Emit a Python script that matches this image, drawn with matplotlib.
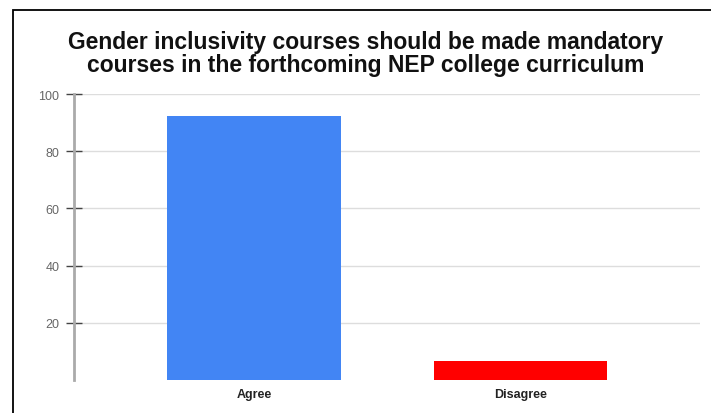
import matplotlib.pyplot as plt
from matplotlib.patches import Rectangle

plt.rcParams["font.family"] = ["Liberation Sans", "DejaVu Sans"]

categories = ["Agree", "Disagree"]
values = [92.4, 6.6]
bar_colors = ["#4285F4", "#FF0000"]
y_ticks = [20, 40, 60, 80, 100]
title = "Gender inclusivity courses should be made mandatory\ncourses in the forthcoming NEP college curriculum"

W, H = 711, 414
fig = plt.figure(figsize=(W / 100, H / 100), dpi=100)
fig.patch.set_facecolor("white")

# outer frame, open on the right and bottom
fig.patches.append(Rectangle((13 / W, -0.1), 1.2, (H - 11) / H + 0.1,
                             transform=fig.transFigure, fill=False,
                             edgecolor="black", linewidth=1.3))

left, right, bottom, top = 74, 700, 381, 95
ax = fig.add_axes([left / W, 1 - bottom / H, (right - left) / W, (bottom - top) / H])

x = list(range(len(categories)))
ax.bar(x, values, width=0.65, color=bar_colors, zorder=3)

ax.set_xlim(-0.675, 1.672)
ax.set_ylim(0, 100)
ax.set_yticks(y_ticks)
ax.set_yticklabels([str(t) for t in y_ticks])
ax.yaxis.grid(True, color="#dddddd", linewidth=1.0, zorder=0)
ax.set_axisbelow(True)

for side in ["top", "right", "bottom"]:
    ax.spines[side].set_visible(False)
ax.spines["left"].set_color("#aaaaaa")
ax.spines["left"].set_linewidth(2.0)
ax.spines["left"].set_zorder(4)

ax.tick_params(axis="y", direction="inout", length=11, width=1.0, color="#444444",
               labelsize=9, labelcolor="#666666", pad=5)
ax.set_xticks(x)
ax.set_xticklabels(categories, fontsize=9, fontweight="bold", color="#222222")
ax.tick_params(axis="x", length=0, pad=6)

fig.text(366 / W, 1 - 54 / H, title, ha="center", va="center", fontsize=16.5,
         fontweight="bold", color="#111111", linespacing=0.95)

fig.savefig("out.png", dpi=100)
